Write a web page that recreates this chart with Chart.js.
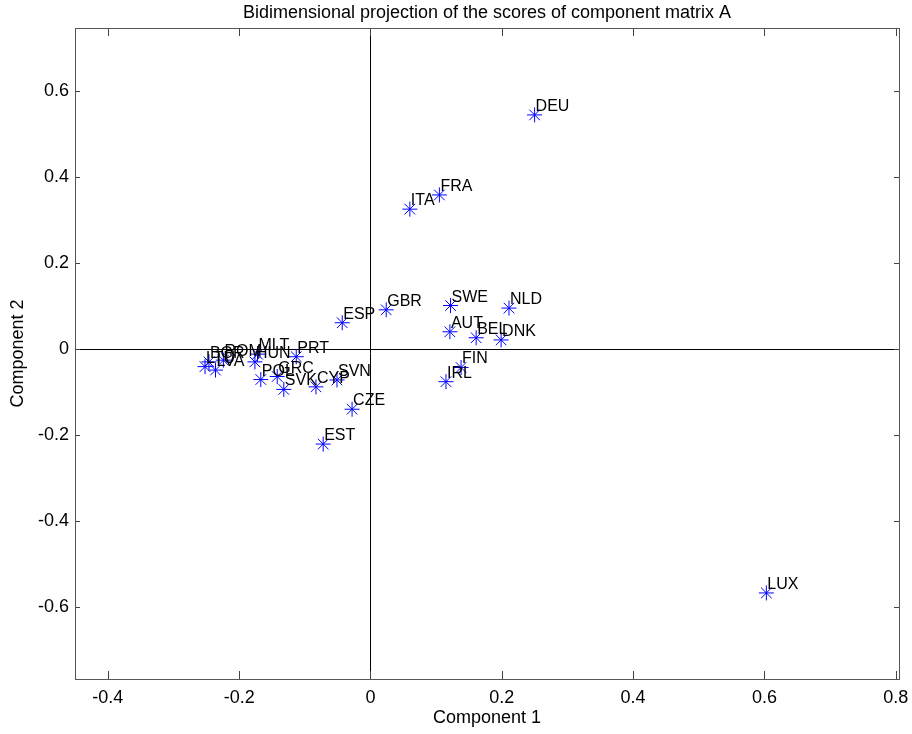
<!DOCTYPE html>
<html>
<head>
<meta charset="utf-8">
<script src="https://cdn.jsdelivr.net/npm/chart.js@4.4.1/dist/chart.umd.min.js"></script>
<style>
  body { margin: 0; background: #fff; }
  #wrap { width: 912px; height: 734px; position: relative; }
</style>
</head>
<body>
<div id="wrap"><canvas id="chart-scores"></canvas></div>
<script>
// country codes and their scores on the first two components
var countries = ["DEU", "LUX", "FRA", "ITA", "ESP", "GBR", "SWE", "NLD", "AUT", "BEL", "DNK",
                 "FIN", "IRL", "SVN", "CYP", "CZE", "EST", "SVK", "POL", "GRC", "PRT", "MLT",
                 "HUN", "BGR", "ROM", "LTU", "LVA"];
var comp1 = [0.250, 0.603, 0.105, 0.060, -0.043, 0.024, 0.122, 0.211, 0.121, 0.161, 0.199,
             0.138, 0.115, -0.051, -0.083, -0.028, -0.072, -0.132, -0.167, -0.142, -0.113, -0.172,
             -0.176, -0.246, -0.224, -0.252, -0.236];
var comp2 = [0.544, -0.567, 0.358, 0.325, 0.061, 0.091, 0.101, 0.095, 0.040, 0.026, 0.021,
             -0.043, -0.076, -0.072, -0.088, -0.140, -0.221, -0.094, -0.071, -0.064, -0.018, -0.012,
             -0.030, -0.030, -0.026, -0.041, -0.049];
var xTicks = [-0.4, -0.2, 0, 0.2, 0.4, 0.6, 0.8];
var yTicks = [-0.6, -0.4, -0.2, 0, 0.2, 0.4, 0.6];
var chartTitle = 'Bidimensional projection of the scores of component matrix A';

var points = [];
for (var i = 0; i < countries.length; i++) {
    points.push({x: comp1[i], y: comp2[i]});
}

var FONT = "'Liberation Sans', Arial, Helvetica, sans-serif";

// frame, inward tick marks, zero lines and the title centred over the axes
var framePlugin = {
    id: 'frame',
    beforeDatasetsDraw: function(chart) {
        var ctx = chart.ctx, a = chart.chartArea;
        var sx = chart.scales.x, sy = chart.scales.y;
        ctx.save();
        ctx.lineWidth = 1;
        ctx.strokeStyle = '#000';
        var x0 = Math.round(sx.getPixelForValue(0)) + 0.5;
        var y0 = Math.round(sy.getPixelForValue(0)) + 0.5;
        ctx.beginPath();
        ctx.moveTo(x0, a.top); ctx.lineTo(x0, a.bottom);
        ctx.moveTo(a.left, y0); ctx.lineTo(a.right, y0);
        ctx.stroke();

        ctx.strokeStyle = '#444';
        ctx.beginPath();
        sx.ticks.forEach(function(t) {
            var px = Math.round(sx.getPixelForValue(t.value)) + 0.5;
            ctx.moveTo(px, a.bottom); ctx.lineTo(px, a.bottom - 8);
            ctx.moveTo(px, a.top); ctx.lineTo(px, a.top + 8);
        });
        sy.ticks.forEach(function(t) {
            var py = Math.round(sy.getPixelForValue(t.value)) + 0.5;
            ctx.moveTo(a.left, py); ctx.lineTo(a.left + 5, py);
            ctx.moveTo(a.right, py); ctx.lineTo(a.right - 5, py);
        });
        ctx.stroke();
        ctx.strokeStyle = '#555';
        ctx.strokeRect(Math.round(a.left) + 0.5, Math.round(a.top) + 0.5,
                       Math.round(a.right - a.left), Math.round(a.bottom - a.top));

        ctx.font = '18px ' + FONT;
        ctx.fillStyle = '#000';
        ctx.textAlign = 'center';
        ctx.textBaseline = 'middle';
        ctx.fillText(chartTitle, (a.left + a.right) / 2, 13);
        ctx.restore();
    }
};

// country code next to each marker
var labelPlugin = {
    id: 'pointLabels',
    afterDatasetsDraw: function(chart) {
        var ctx = chart.ctx;
        var meta = chart.getDatasetMeta(0);
        ctx.save();
        ctx.font = '16px ' + FONT;
        ctx.fillStyle = '#000';
        ctx.textAlign = 'left';
        ctx.textBaseline = 'alphabetic';
        meta.data.forEach(function(el, i) {
            ctx.fillText(countries[i], el.x + 1, el.y - 4);
        });
        ctx.restore();
    }
};

var ctx = document.getElementById('chart-scores');
var chart = new Chart(ctx, {
    type: 'scatter',
    data: {
        datasets: [{
            data: points,
            pointStyle: 'star',
            pointRadius: 7.5,
            pointHoverRadius: 7.5,
            borderWidth: 1,
            borderColor: '#0000ff',
            backgroundColor: '#0000ff'
        }]
    },
    options: {
        responsive: true,
        maintainAspectRatio: false,
        animation: false,
        layout: { padding: { left: 0, right: 13, top: 28, bottom: 0 } },
        plugins: {
            legend: { display: false },
            tooltip: { enabled: false },
            title: { display: false }
        },
        scales: {
            x: {
                type: 'linear',
                min: -0.45,
                max: 0.805,
                afterBuildTicks: function(scale) {
                    scale.ticks = xTicks.map(function(v) { return {value: v}; });
                },
                afterFit: function(scale) {
                    scale.height = 55;
                    scale.paddingLeft = 0;
                    scale.paddingRight = 0;
                },
                grid: { display: false, drawTicks: false },
                border: { display: false },
                ticks: {
                    padding: 8,
                    color: '#000',
                    font: { family: FONT, size: 18 },
                    callback: function(v) { return String(+v.toFixed(1)); }
                },
                title: {
                    display: true,
                    text: 'Component 1',
                    color: '#000',
                    font: { family: FONT, size: 18 },
                    padding: { top: 0, bottom: 5 }
                }
            },
            y: {
                type: 'linear',
                min: -0.767,
                max: 0.746,
                afterBuildTicks: function(scale) {
                    scale.ticks = yTicks.map(function(v) { return {value: v}; });
                },
                afterFit: function(scale) {
                    scale.width = 75;
                    scale.paddingTop = 0;
                    scale.paddingBottom = 0;
                },
                grid: { display: false, drawTicks: false },
                border: { display: false },
                ticks: {
                    padding: 6,
                    color: '#000',
                    font: { family: FONT, size: 18 },
                    callback: function(v) { return String(+v.toFixed(1)); }
                },
                title: {
                    display: true,
                    text: 'Component 2',
                    color: '#000',
                    font: { family: FONT, size: 18 },
                    padding: { top: 7, bottom: 0 }
                }
            }
        }
    },
    plugins: [framePlugin, labelPlugin]
});
</script>
</body>
</html>
